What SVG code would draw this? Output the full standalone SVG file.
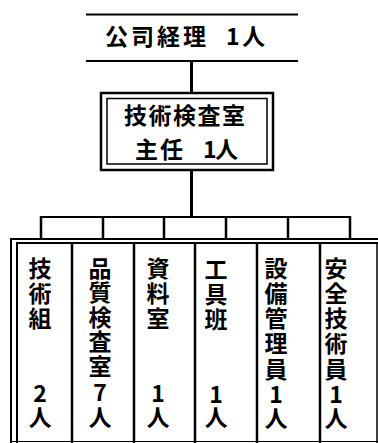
<svg xmlns="http://www.w3.org/2000/svg" width="378" height="443" viewBox="0 0 378 443">
<style>
.t{font-family:"Noto Sans CJK JP","Noto Sans CJK SC",sans-serif;font-size:23px;font-weight:bold;fill:#000}
.v{font-family:"Noto Sans CJK JP","Noto Sans CJK SC",sans-serif;font-size:23px;font-weight:bold;fill:#000;text-anchor:middle}
.ln{stroke:#000;fill:none}
</style>
<rect width="378" height="443" fill="#fff"/>
<g id="connectors" class="ln">
<line x1="191.5" y1="61" x2="191.5" y2="93" stroke-width="3"/>
<line x1="191.5" y1="170" x2="191.5" y2="217" stroke-width="3"/>
<line x1="40" y1="217" x2="351" y2="217" stroke-width="2"/>
<line x1="41" y1="216" x2="41" y2="239" stroke-width="2.5"/>
<line x1="103" y1="216" x2="103" y2="239" stroke-width="2.5"/>
<line x1="164" y1="216" x2="164" y2="239" stroke-width="2.5"/>
<line x1="226" y1="216" x2="226" y2="239" stroke-width="2.5"/>
<line x1="288" y1="216" x2="288" y2="239" stroke-width="2.5"/>
<line x1="350" y1="216" x2="350" y2="239" stroke-width="2.5"/>
</g>
<g id="manager">
<line class="ln" x1="86" y1="14.5" x2="298" y2="14.5" stroke-width="1.8"/>
<line class="ln" x1="86" y1="61" x2="298" y2="61" stroke-width="1.8"/>
<text class="t" x="105 131 157 183 226 242" y="45">公司経理1人</text>
</g>
<g id="chief">
<rect class="ln" x="101" y="93" width="172" height="77" stroke-width="2.5"/>
<rect class="ln" x="107" y="98.5" width="160" height="65.5" stroke-width="1.5"/>
<text class="t" x="124 148.5 173 197.5 222" y="124">技術検査室</text>
<text class="t" x="135 160 203 215" y="158">主任1人</text>
</g>
<g id="frame" class="ln">
<path d="M11,443 V239 H378" stroke-width="2"/>
<path d="M17,443 V243 H378" stroke-width="2"/>
<line x1="72" y1="243" x2="72" y2="443" stroke-width="2.5"/>
<line x1="134" y1="243" x2="134" y2="443" stroke-width="2.5"/>
<line x1="195" y1="243" x2="195" y2="443" stroke-width="2.5"/>
<line x1="257" y1="243" x2="257" y2="443" stroke-width="2.5"/>
<line x1="320" y1="243" x2="320" y2="443" stroke-width="2.5"/>
<line x1="377" y1="243" x2="377" y2="443" stroke-width="1.5"/>
<line x1="11" y1="441.5" x2="378" y2="441.5" stroke-width="1"/>
</g>
<g id="col1"><text class="v" x="40 40 40 40 40" y="277 302 327 402 426">技術組2人</text></g>
<g id="col2"><text class="v" x="100 100 100 100 100 100 100" y="277 301 326 350 375 401 426">品質検査室7人</text></g>
<g id="col3"><text class="v" x="158 158 158 158 158" y="277 302 327 402 426">資料室1人</text></g>
<g id="col4"><text class="v" x="216 216 216 216 216" y="278 303 328 403 426">工具班1人</text></g>
<g id="col5"><text class="v" x="276 276 276 276 276 276 276" y="277 302 327 352 378 403 427">設備管理員1人</text></g>
<g id="col6"><text class="v" x="336 336 336 336 336 336 336" y="277 302 327 352 378 403 427">安全技術員1人</text></g>
</svg>
